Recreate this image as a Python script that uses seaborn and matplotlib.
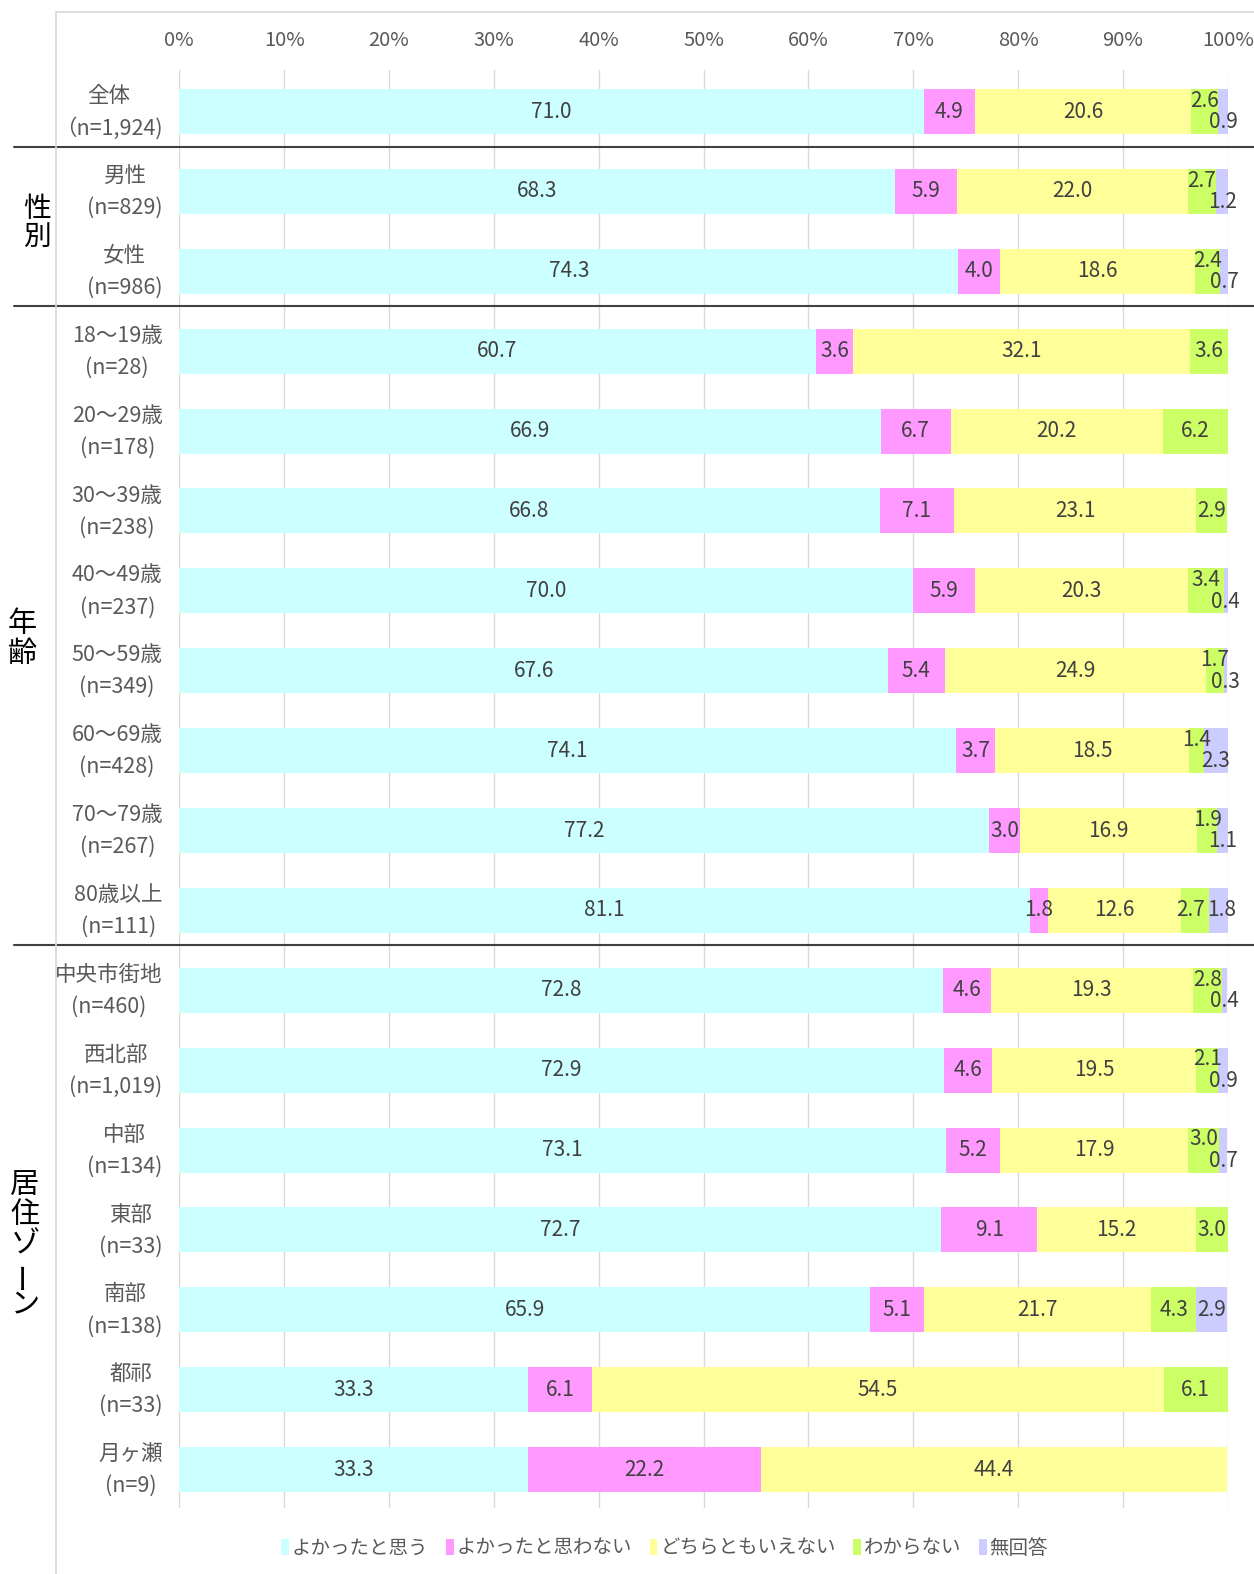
import numpy as np
import pandas as pd
import matplotlib
matplotlib.use("Agg")
import matplotlib.pyplot as plt
import seaborn as sns
from matplotlib.patches import Patch, Rectangle
from matplotlib import transforms

# ==============================
#            Data
# ==============================
row_labels = [
    '全体\n（n=1,924)', '男性\n(n=829)', '女性\n(n=986)',
    '18～19歳\n(n=28)', '20～29歳\n(n=178)', '30～39歳\n(n=238)', '40～49歳\n(n=237)',
    '50～59歳\n(n=349)', '60～69歳\n(n=428)', '70～79歳\n(n=267)', '80歳以上\n(n=111)',
    '中央市街地\n(n=460)', '西北部\n(n=1,019)', '中部\n(n=134)', '東部\n(n=33)',
    '南部\n(n=138)', '都祁\n(n=33)', '月ヶ瀬\n(n=9)',
]
series_names = ['よかったと思う', 'よかったと思わない', 'どちらともいえない', 'わからない', '無回答']

good = [71.0, 68.3, 74.3, 60.7, 66.9, 66.8, 70.0, 67.6, 74.1, 77.2, 81.1, 72.8, 72.9, 73.1, 72.7, 65.9, 33.3, 33.3]
not_good = [4.9, 5.9, 4.0, 3.6, 6.7, 7.1, 5.9, 5.4, 3.7, 3.0, 1.8, 4.6, 4.6, 5.2, 9.1, 5.1, 6.1, 22.2]
neither = [20.6, 22.0, 18.6, 32.1, 20.2, 23.1, 20.3, 24.9, 18.5, 16.9, 12.6, 19.3, 19.5, 17.9, 15.2, 21.7, 54.5, 44.4]
dont_know = [2.6, 2.7, 2.4, 3.6, 6.2, 2.9, 3.4, 1.7, 1.4, 1.9, 2.7, 2.8, 2.1, 3.0, 3.0, 4.3, 6.1, 0.0]
no_answer = [0.9, 1.2, 0.7, 0.0, 0.0, 0.0, 0.4, 0.3, 2.3, 1.1, 1.8, 0.4, 0.9, 0.7, 0.0, 2.9, 0.0, 0.0]

groups = [('性別', 1.4, 37), ('年齢', 6.6, 22), ('居住ゾーン', 14.18, 25)]
separators = [0.44, 2.43, 10.43]

colors = ['#CCFFFF', '#FF99FF', '#FFFF99', '#CCFF66', '#CCCCFF']
# rows where the two small end labels are staggered up / down
stagger_rows = {0, 1, 2, 6, 7, 8, 9, 11, 12, 13}
# rows where the two small end labels sit side by side and need a little room
spread_rows = {10}

# ==============================
#         Build table
# ==============================
df = pd.DataFrame({'label': row_labels, 's0': good, 's1': not_good, 's2': neither,
                   's3': dont_know, 's4': no_answer})
cols = ['s0', 's1', 's2', 's3', 's4']
cum = df[cols].cumsum(axis=1)
for i, c in enumerate(cols):
    df['cum' + str(i)] = cum[c]

# ==============================
#            Plot
# ==============================
sns.set_theme(style='white')
plt.rcParams['font.family'] = ['Noto Sans CJK JP', 'DejaVu Sans']

W, H = 1254, 1574
fig = plt.figure(figsize=(W / 100, H / 100), dpi=100)
ax_left, ax_right = 179.3, 1227.7
ax_top, ax_bot = 70, 1508
ax = fig.add_axes([ax_left / W, 1 - ax_bot / H, (ax_right - ax_left) / W, (ax_bot - ax_top) / H])

# stacked bars: draw cumulative totals from the back to the front
for i in reversed(range(5)):
    sns.barplot(data=df, x='cum' + str(i), y='label', order=row_labels, orient='h',
                color=colors[i], saturation=1, width=0.563, linewidth=0, ax=ax)

ax.set_xlim(0, 100)
ax.set_ylim(17.48, -0.52)
ax.set_xlabel('')
ax.set_ylabel('')
ax.set_xticks(np.arange(0, 101, 10))
ax.set_xticklabels([f'{t}%' for t in range(0, 101, 10)])
ax.xaxis.tick_top()
ax.tick_params(axis='x', length=0, pad=14, labelsize=14.5, labelcolor='#595959')
ax.tick_params(axis='y', length=0, pad=12, labelsize=15.5, labelcolor='#595959')
shift_up = transforms.ScaledTranslation(0, 5 / 72, fig.dpi_scale_trans)
for lab in ax.get_yticklabels():
    lab.set_multialignment('center')
    lab.set_linespacing(1.58)
    lab.set_transform(lab.get_transform() + shift_up)
ax.grid(axis='x', color='#D9D9D9', linewidth=1)
ax.set_axisbelow(True)
for s in ax.spines.values():
    s.set_visible(False)

# value labels
vals = df[cols].values
for r in range(len(row_labels)):
    start = 0.0
    for k in range(5):
        v = vals[r, k]
        if v > 0:
            dx, dy = 0, 0
            if r in stagger_rows and k == 3:
                dy = -0.135
            elif r in stagger_rows and k == 4:
                dy = 0.135
            if r in spread_rows and k == 3:
                dx = -0.35
            elif r in spread_rows and k == 4:
                dx = 0.35
            ax.text(start + v / 2 + dx, r + dy, f'{v:.1f}', ha='center', va='center',
                    fontsize=15, color='#404040')
        start += v

# separator lines between groups
sep_tr = transforms.blended_transform_factory(fig.transFigure, ax.transData)
for y in separators:
    ax.plot([14 / W, 1.0], [y, y], transform=sep_tr, color='#404040', lw=1.5, clip_on=False)

# vertical group titles
for text, yc, xpx in groups:
    n = len(text)
    step = 20 if text == '性別' else 21.5  # points between characters
    for j, ch in enumerate(text):
        off = (j - (n - 1) / 2) * step
        ax.annotate(ch, xy=(xpx / W, yc), xycoords=sep_tr, xytext=(0, -off),
                    textcoords='offset points', ha='center', va='center',
                    fontsize=21 if text != '性別' else 20, color='black',
                    family=['Noto Sans CJK JP'], rotation=90 if ch == 'ー' else 0,
                    annotation_clip=False)

# outer light frame
fig.add_artist(Rectangle((56 / W, -0.1), 1.0, 1 - 12 / H + 0.1, transform=fig.transFigure,
                         fill=False, edgecolor='#D9D9D9', linewidth=1.2))

handles = [Patch(facecolor=c, edgecolor='none') for c in colors]
fig.legend(handles, series_names, loc='center', bbox_to_anchor=(0.53, 1 - 1548 / H), ncol=5,
           frameon=False, fontsize=14, labelcolor='#595959', handlelength=0.4,
           handleheight=0.85, handletextpad=0.15, columnspacing=0.9)

fig.savefig('out.png', dpi=100)
